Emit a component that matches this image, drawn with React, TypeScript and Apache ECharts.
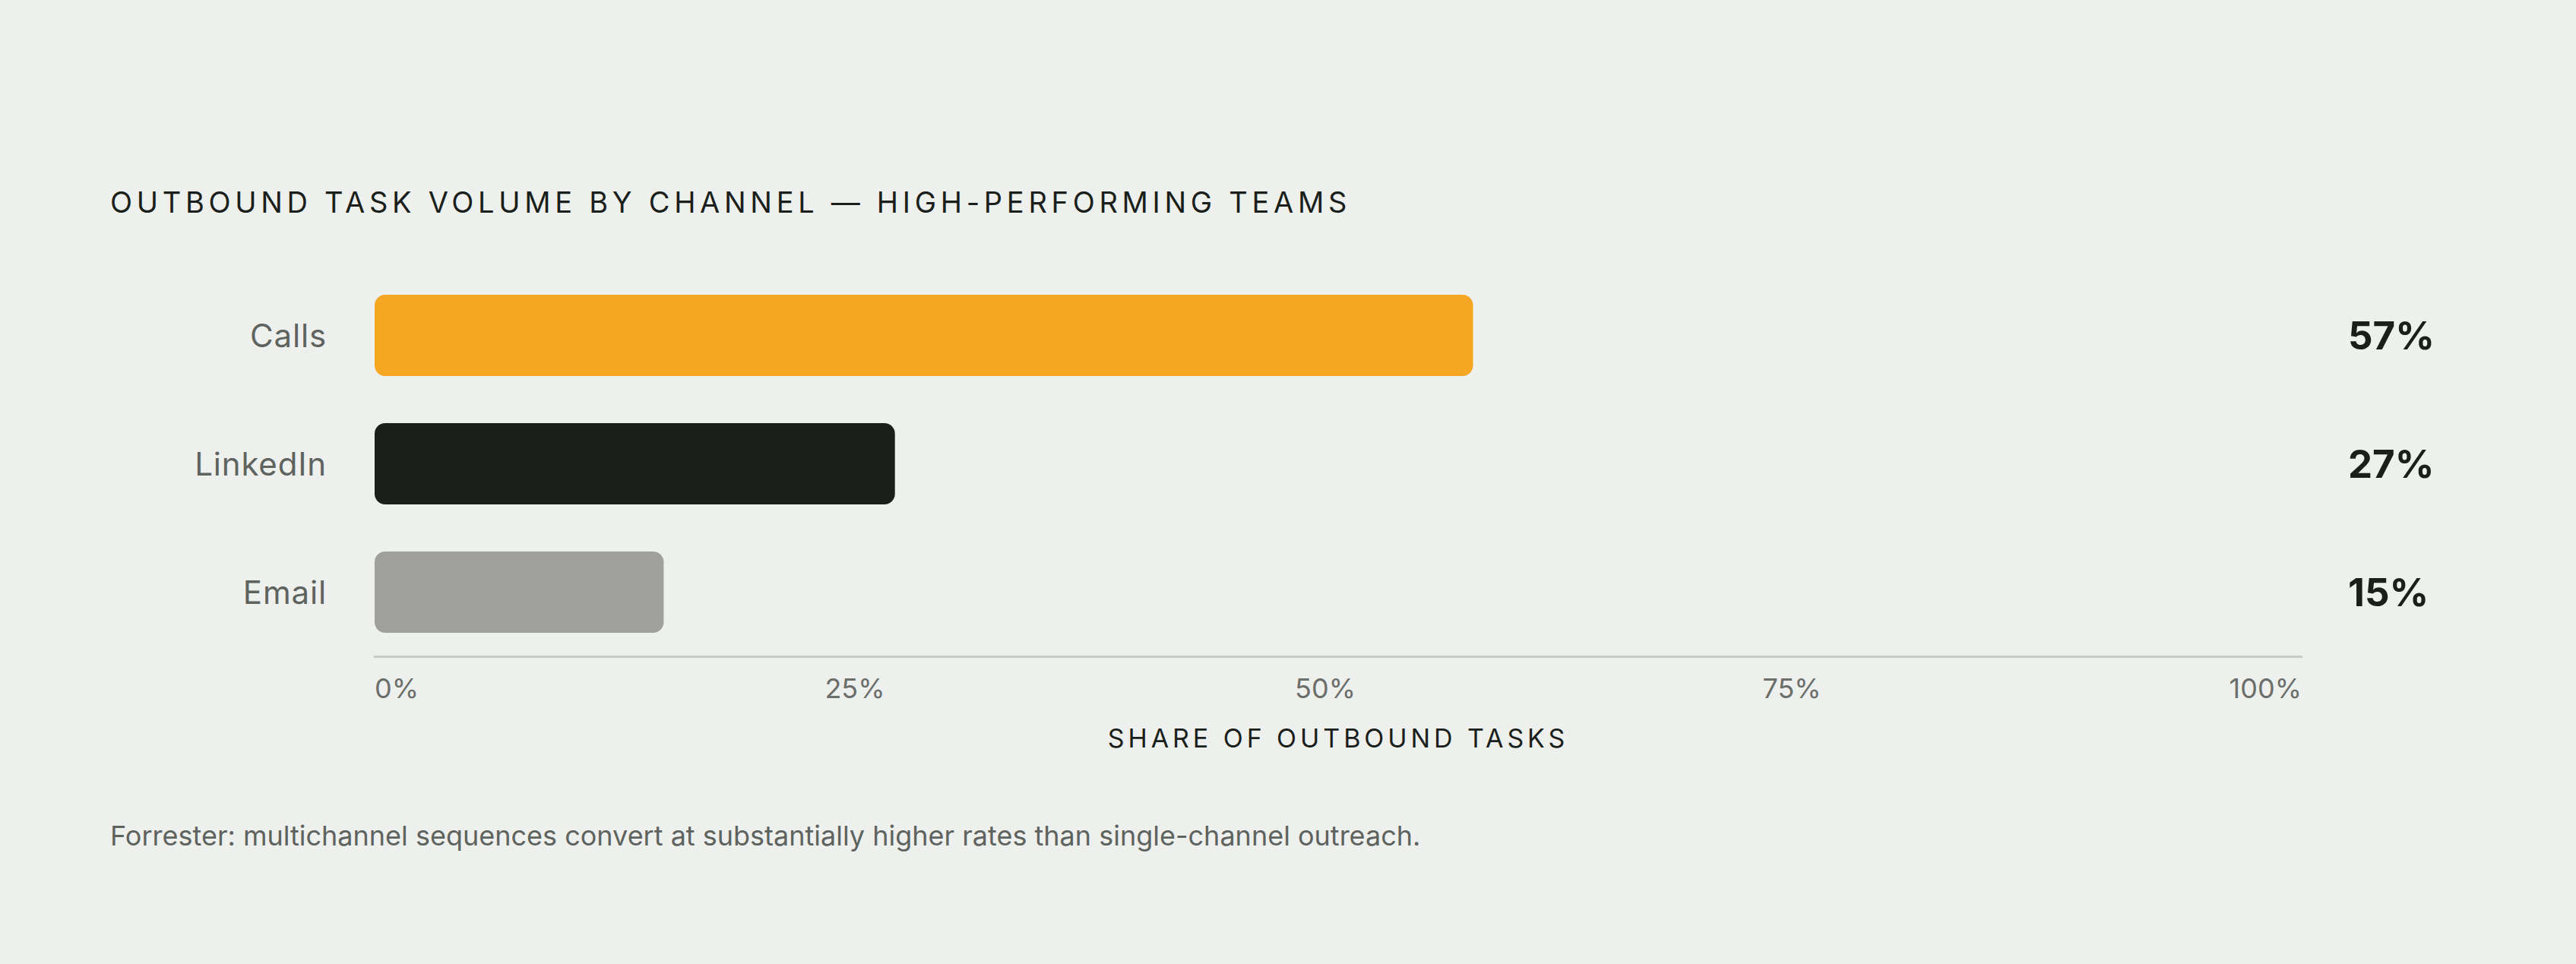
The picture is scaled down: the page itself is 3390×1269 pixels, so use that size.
import { useEffect, useRef } from "react";
import * as echarts from "echarts";

const channels = ["Calls", "LinkedIn", "Email"];
const shares = [57, 27, 15];
const barColors = ["#F5A623", "#1B1F1B", "#9FA09D"];
const shareTicks = [0, 25, 50, 75, 100];

const chartTitle = "OUTBOUND TASK VOLUME BY CHANNEL — HIGH-PERFORMING TEAMS";
const axisTitle = "SHARE OF OUTBOUND TASKS";
const footnote =
  "Forrester: multichannel sequences convert at substantially higher rates than single-channel outreach.";

const FONT = "Inter";

// the source spreads its tick labels "space-between", so the inner ones sit a bit left of their ticks
const labelNudge: Record<number, number> = { 25: 2, 50: 17, 75: 37 };

export default function App() {
  const chartRef = useRef<HTMLDivElement | null>(null);

  useEffect(() => {
    document.body.style.margin = "0";
    document.body.style.background = "#EEF0ED";
    if (!chartRef.current) return;
    const el = chartRef.current;

    const chart = echarts.init(el, undefined, { renderer: "svg" });

    const tickStyle = { fontFamily: FONT, fontSize: 36, color: "#6B6E6B" };
    const rich: Record<string, any> = { t: { ...tickStyle } };
    shareTicks.forEach((v) => {
      if (labelNudge[v]) {
        rich["t" + v] = { ...tickStyle, padding: [0, labelNudge[v] * 2, 0, 0] };
      }
    });

    const option = {
      animation: false,
      backgroundColor: "#EEF0ED",
      title: {
        text: chartTitle,
        left: 145,
        top: 247,
        padding: 0,
        textStyle: {
          fontFamily: FONT,
          fontSize: 38,
          fontWeight: 400,
          color: "#1B1F1B",
        },
      },
      grid: {
        left: 493,
        right: 361,
        top: 357,
        bottom: 405,
      },
      xAxis: {
        type: "value",
        min: shareTicks[0],
        max: shareTicks[shareTicks.length - 1],
        interval: shareTicks[1] - shareTicks[0],
        name: axisTitle,
        nameLocation: "middle",
        nameGap: 90,
        nameTextStyle: {
          fontFamily: FONT,
          fontSize: 34,
          color: "#1B1F1B",
        },
        axisLine: { show: true, lineStyle: { color: "#C9CBC7", width: 3 } },
        axisTick: { show: false },
        splitLine: { show: false },
        axisLabel: {
          margin: 24,
          ...tickStyle,
          alignMinLabel: "left",
          alignMaxLabel: "right",
          formatter: (v: number) =>
            labelNudge[v] ? `{t${v}|${v}%}` : `{t|${v}%}`,
          rich,
        },
      },
      yAxis: [
        {
          type: "category",
          data: channels,
          inverse: true,
          axisLine: { show: false },
          axisTick: { show: false },
          axisLabel: {
            margin: 63,
            fontFamily: FONT,
            fontSize: 42,
            color: "#5F635F",
          },
        },
        {
          type: "category",
          data: channels,
          inverse: true,
          position: "right",
          axisLine: { show: false },
          axisTick: { show: false },
          axisLabel: {
            margin: 61,
            fontFamily: FONT,
            fontSize: 51,
            fontWeight: 700,
            color: "#1B1F1B",
            formatter: (_v: string, i: number) => shares[i] + "%",
          },
        },
      ],
      graphic: [
        {
          type: "text",
          left: 145,
          top: 1082,
          style: {
            text: footnote,
            fontFamily: FONT,
            fontSize: 36,
            fill: "#5F635F",
          },
        },
      ],
      series: [
        {
          type: "bar",
          yAxisIndex: 0,
          barWidth: 107,
          data: shares.map((v, i) => ({
            value: v,
            itemStyle: { color: barColors[i], borderRadius: 14 },
          })),
        },
      ],
    };

    chart.setOption(option);

    // svg texts: letter spacing for the spaced-out caps lines
    const spaceOut = () => {
      el.querySelectorAll("text").forEach((t) => {
        const s = t.textContent;
        if (s === chartTitle) t.style.letterSpacing = "0.15em";
        else if (s === axisTitle) t.style.letterSpacing = "0.145em";
        else if (s && channels.includes(s)) t.style.letterSpacing = "0.02em";
      });
    };
    spaceOut();
    chart.on("finished", spaceOut);

    return () => {
      chart.dispose();
    };
  }, []);

  return <div ref={chartRef} style={{ width: 3390, height: 1269 }} />;
}
